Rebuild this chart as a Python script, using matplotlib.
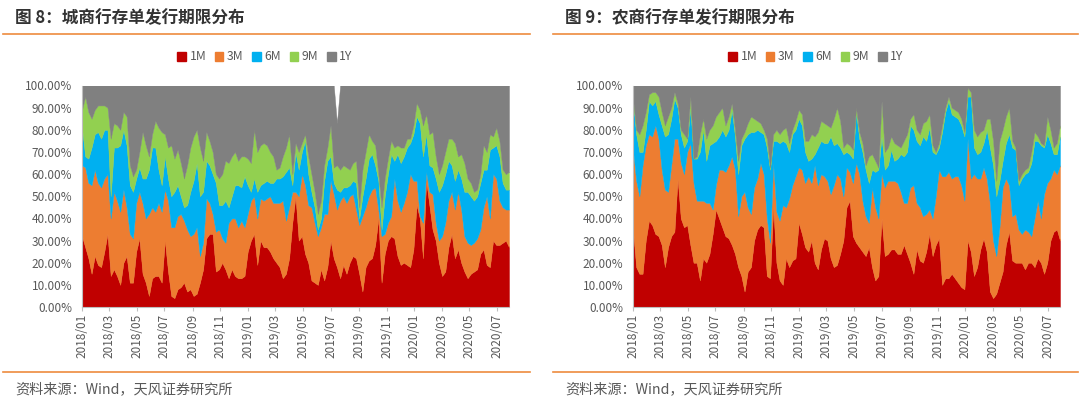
import numpy as np
import pandas as pd
import matplotlib
matplotlib.use('Agg')
import matplotlib.pyplot as plt
from matplotlib.patches import Patch
from matplotlib.lines import Line2D

plt.rcParams['font.family'] = ['Noto Sans CJK SC', 'DejaVu Sans']

# weekly observation dates (category axis)
weeks = pd.date_range('2018-01-01', periods=135, freq='7D')
tick_dates = pd.date_range('2018-01-01', '2020-07-01', freq='2MS')
tick_labels = [d.strftime('%Y/%m') for d in tick_dates]

series_names = ['1M', '3M', '6M', '9M', '1Y']
colors = ['#C00000', '#ED7D31', '#00B0F0', '#92D050', '#808080']

# ---- 图8 城商行 (shares, %) ----
city_1m = [32,27,22,15,23,19,18,25,33,14, 17,14,10,20,23,11,11,25,31,15,
           11,5,13,14,14,11,30,16,5,4, 8,9,11,7,8,5,6,11,17,31,
           33,33,16,17,20,17,13,17,14,13, 13,14,25,30,33,19,30,27,27,25,
           22,20,18,13,15,22,38,50,30,32, 24,20,12,11,10,17,12,18,30,22,
           18,13,19,15,20,23,22,15,7,18, 21,22,28,40,11,24,30,32,31,23,
           19,20,19,18,26,46,40,22,57,46, 35,30,20,14,16,27,33,22,26,20,
           16,13,15,16,17,24,26,19,18,30, 28,28,29,30,27]
city_3m = [32,36,34,40,39,37,36,33,27,26, 35,34,33,33,22,22,20,22,21,32,
           29,37,32,29,33,32,23,32,31,32, 33,33,28,28,24,28,30,12,12,18,
           14,9,18,18,11,12,25,23,26,23, 26,22,17,18,17,21,19,21,22,25,
           25,27,29,35,24,23,14,2,20,28, 31,26,33,27,22,19,30,24,27,29,
           26,35,31,32,30,28,22,22,34,27, 29,31,26,4,21,9,8,9,27,25,
           24,27,33,42,31,11,1,16,4,6, 16,8,10,18,22,21,19,22,26,24,
           16,16,13,13,14,11,19,31,22,30, 30,20,16,14,17]
city_6m = [17,5,11,17,16,23,22,22,20,10, 20,24,30,27,28,22,21,11,11,11,
           18,20,27,29,15,12,15,10,14,16, 14,8,6,11,20,24,29,27,23,17,
           17,18,22,11,15,19,7,10,15,19, 15,23,13,4,8,12,6,8,8,6,
           9,11,11,11,22,18,3,18,12,10, 20,14,7,7,3,4,15,24,11,5,
           9,4,4,7,5,6,12,3,9,13, 17,16,10,13,3,17,22,28,8,21,
           22,21,20,14,21,29,42,30,17,12, 12,20,22,23,22,18,12,13,10,14,
           20,23,22,19,19,21,17,12,31,12, 15,20,11,9,9]
city_9m = [8,27,21,13,11,12,15,11,10,26, 11,10,7,8,13,9,7,4,7,21,
           15,6,6,12,19,24,10,14,23,15, 16,15,13,18,20,20,15,22,14,13,
           11,10,4,12,14,18,20,18,15,11, 14,9,12,13,22,18,18,18,16,14,
           12,4,5,9,11,15,5,4,8,4, 3,8,8,7,7,8,7,6,14,7,
           11,10,10,9,7,8,10,5,12,12, 11,6,9,3,10,8,7,6,6,4,
           7,4,4,2,4,6,6,14,9,14, 16,10,8,9,10,10,12,17,6,11,
           13,6,6,4,3,4,11,8,7,5, 8,7,6,7,8]
city_1y = [11,5,12,15,11,9,9,9,10,24, 17,18,20,12,14,36,41,38,30,21,
           27,32,22,16,19,21,22,28,27,33, 29,35,42,36,28,23,20,28,34,21,
           25,30,40,42,40,34,35,32,30,34, 32,32,33,35,20,30,27,26,27,30,
           32,38,37,32,28,22,40,26,30,26, 22,32,40,48,58,52,36,28,18,37,
           19,38,36,37,38,35,34,55,38,30, 22,25,27,40,55,42,33,25,28,27,
           28,28,24,24,18,8,11,18,13,22, 21,32,40,36,30,24,24,26,32,31,
           35,42,44,48,47,40,27,30,22,23, 19,25,38,40,39]

# ---- 图9 农商行 (shares, %) ----
rural_1m = [35,18,15,15,30,39,37,33,32,28, 18,27,32,34,58,40,36,37,28,20,
            20,12,22,20,24,33,44,40,36,32, 31,28,24,18,14,7,16,18,30,35,
            37,36,14,13,45,20,12,10,22,18, 21,22,38,33,27,25,30,20,17,26,
            31,30,22,18,19,24,30,45,48,32, 29,27,25,23,27,18,12,14,40,23,
            24,26,26,24,24,28,24,20,15,26, 21,20,25,33,23,28,31,10,13,13,
            15,13,11,9,8,30,25,14,18,26, 31,25,7,4,6,11,16,28,34,21,
            20,20,20,17,20,20,18,22,20,15, 20,30,34,35,30]
rural_3m = [36,39,35,49,43,39,40,49,44,34, 35,25,32,42,18,25,24,33,46,36,
            28,36,26,27,23,11,11,22,26,29, 33,40,38,23,36,45,29,24,24,23,
            28,24,26,16,20,23,27,36,23,31, 34,37,25,29,29,34,26,44,38,34,
            28,27,29,37,41,34,20,18,13,24, 36,33,23,18,11,36,33,26,20,31,
            33,31,31,32,28,19,23,34,40,21, 24,21,17,11,17,22,31,49,46,48,
            43,46,48,46,40,46,33,46,40,32, 32,33,40,26,17,25,38,30,21,20,
            22,15,13,18,14,12,22,26,20,36, 36,28,28,25,34]
rural_6m = [22,21,20,6,7,15,14,11,11,20, 24,26,21,18,14,13,12,5,16,11,
            19,22,32,19,26,30,20,15,18,16, 16,21,15,19,23,24,33,37,25,22,
            14,18,32,33,10,32,35,29,29,21, 23,21,22,20,14,7,11,5,17,15,
            15,17,26,18,14,14,19,7,8,11, 23,16,22,21,18,8,16,22,17,8,
            7,14,9,11,17,21,23,28,25,28, 28,36,33,37,30,19,10,20,29,32,
            29,27,26,27,29,19,37,12,11,12, 11,22,25,34,27,21,12,16,23,31,
            29,20,25,25,27,33,35,27,33,21, 22,16,7,9,13]
rural_9m = [1,2,8,12,8,3,6,4,8,6, 5,8,5,3,2,2,6,1,5,0,
            1,8,5,10,7,8,11,11,10,5, 6,3,3,6,3,3,5,7,6,4,
            4,2,4,1,3,5,4,5,7,4, 2,4,4,5,5,9,11,8,7,9,
            9,8,4,12,16,12,3,4,4,4, 2,3,4,2,12,7,5,1,16,8,
            8,6,8,6,3,7,8,3,7,5, 5,6,9,6,3,1,2,3,2,2,
            3,3,3,3,2,4,2,8,8,9, 6,5,13,11,7,18,14,12,12,3,
            1,2,2,2,2,5,4,2,1,1, 8,6,3,5,5]
rural_1y = [6,20,22,18,12,4,3,3,5,12, 18,14,10,3,8,20,22,24,5,33,
            32,22,15,24,20,18,14,12,10,18, 14,8,20,34,24,21,17,14,15,16,
            17,20,24,37,22,20,22,20,19,26, 20,16,11,13,25,25,22,23,21,16,
            17,18,19,15,10,16,28,26,27,29, 10,21,26,36,32,31,34,37,7,30,
            28,23,26,27,28,25,22,15,13,20, 22,17,16,13,27,30,26,18,10,5,
            10,11,12,15,21,1,3,20,23,21, 20,15,15,25,43,25,20,14,10,25,
            28,43,40,38,37,30,21,23,26,27, 14,20,28,26,18]

W, H = 1080, 399
fig = plt.figure(figsize=(W / 100, H / 100), dpi=100)
fig.patch.set_facecolor('white')


def px_axes(x0, y0, x1, y1):
    return fig.add_axes([x0 / W, 1 - y1 / H, (x1 - x0) / W, (y1 - y0) / H])


panels = [
    dict(title='图 8：城商行存单发行期限分布',
         data=[city_1m, city_3m, city_6m, city_9m, city_1y],
         x0=82, x1=509, tx=15, lx0=3, lx1=530, legx=265),
    dict(title='图 9：农商行存单发行期限分布',
         data=[rural_1m, rural_3m, rural_6m, rural_9m, rural_1y],
         x0=633, x1=1060, tx=565, lx0=553, lx1=1078, legx=816),
]

text_gray = '#595959'
line_orange = '#ED8B3E'

for p in panels:
    ax = px_axes(p['x0'], 85.5, p['x1'], 307)
    polys = ax.stackplot(weeks, *p['data'], colors=colors, labels=series_names,
                         linewidth=0.3)
    for poly, c in zip(polys, colors):
        poly.set_edgecolor(c)
    ax.set_xlim(weeks[0], weeks[-1])
    ax.set_ylim(0, 100)
    yt = list(range(0, 101, 10))
    ax.set_yticks(yt)
    ax.set_yticklabels([f'{v:.2f}%' for v in yt])
    ax.set_xticks(tick_dates)
    ax.set_xticklabels(tick_labels, rotation=90)
    ax.tick_params(axis='y', length=0, pad=7, labelsize=8.5, labelcolor=text_gray)
    ax.tick_params(axis='x', length=3, width=0.8, color='#BFBFBF', pad=2,
                   labelsize=8.5, labelcolor=text_gray)
    for s in ['top', 'right']:
        ax.spines[s].set_visible(False)
    for s in ['left', 'bottom']:
        ax.spines[s].set_color('#BFBFBF')
        ax.spines[s].set_linewidth(0.8)
    ax.set_facecolor('white')

    fig.text(p['tx'] / W, 1 - 18 / H, p['title'], fontsize=12, fontweight='bold',
             color='#333333', ha='left', va='center')
    fig.add_artist(Line2D([p['lx0'] / W, p['lx1'] / W], [1 - 34 / H] * 2,
                          color=line_orange, lw=1.2))
    fig.add_artist(Line2D([p['lx0'] / W, p['lx1'] / W], [1 - 372 / H] * 2,
                          color=line_orange, lw=1.2))
    fig.text(p['tx'] / W, 1 - 389 / H, '资料来源：Wind，天风证券研究所', fontsize=10.2,
             color=text_gray, ha='left', va='center')
    handles = [Patch(facecolor=c, edgecolor=c, label=n) for c, n in zip(colors, series_names)]
    fig.legend(handles=handles, loc='center', bbox_to_anchor=(p['legx'] / W, 1 - 57 / H),
               ncol=5, frameon=False, fontsize=8.8, handlelength=0.7, handleheight=0.7,
               handletextpad=0.3, columnspacing=0.7, labelcolor=text_gray,
               borderaxespad=0, borderpad=0)

fig.savefig('out.png', dpi=100)
